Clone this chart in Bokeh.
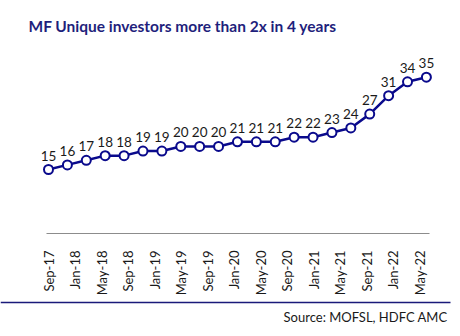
import numpy as np
from bokeh.plotting import figure
from bokeh.models import ColumnDataSource, FixedTicker, Range1d
from bokeh.core.properties import value
from bokeh.embed import file_html
from bokeh.resources import INLINE

# Data
values = [15, 16, 17, 18, 18, 19, 19, 20, 20, 20, 21, 21, 21, 22, 22, 23, 24, 27, 31, 34, 35]
tick_labels = ["Sep-17", "Jan-18", "May-18", "Sep-18", "Jan-19", "May-19", "Sep-19", "Jan-20",
               "May-20", "Sep-20", "Jan-21", "May-21", "Sep-21", "Jan-22", "May-22"]
tick_months = [4 * i for i in range(len(tick_labels))]  # months since Sep-17
span_months = 57  # Sep-17 .. Jun-22
title_text = "MF Unique investors more than 2x in 4 years"
source_text = "Source: MOFSL, HDFC AMC"

xs = list(np.linspace(0, span_months, len(values)))
src = ColumnDataSource(dict(x=xs, y=values, lab=[str(v) for v in values]))

NAVY = "#0A0A8C"
TITLE_C = "#1F1F7C"
W, H = 460, 336
PXM = 6.63     # px per month
PXV = 4.615    # px per unit
X0, Y15 = 48, 169

p = figure(width=W, height=H, output_backend="svg", toolbar_location=None,
           x_range=Range1d(-X0 / PXM, (W - X0) / PXM),
           y_range=Range1d(15 - (H - Y15) / PXV, 15 + Y15 / PXV),
           y_axis_location=None, min_border=0)
p.extra_x_ranges = {"px": Range1d(0, W)}
p.extra_y_ranges = {"px": Range1d(H, 0)}
p.outline_line_color = None
p.grid.visible = False
p.background_fill_color = "white"
p.border_fill_color = "white"

base_y = 15 - (233 - Y15) / PXV

p.line("x", "y", source=src, line_color=NAVY, line_width=2.5)
p.scatter("x", "y", source=src, size=9, fill_color="white", line_color=NAVY, line_width=2)
p.text("x", "y", text="lab", source=src, text_align="center", text_baseline="alphabetic",
       y_offset=-14, text_font=value("Lato"), text_font_size="13.5px", text_color="#1a1a1a")

ax = p.xaxis[0]
ax.fixed_location = base_y
ax.ticker = FixedTicker(ticks=tick_months)
ax.major_label_overrides = {m: l for m, l in zip(tick_months, tick_labels)}
ax.major_label_orientation = np.pi / 2
ax.major_tick_line_color = None
ax.minor_tick_line_color = None
ax.axis_line_color = None
ax.major_label_standoff = 11
ax.major_label_text_font = "Lato"
ax.major_label_text_font_size = "13px"
ax.major_label_text_color = "#1a1a1a"

# axis baseline
p.segment(x0=[46], y0=[233], x1=[429], y1=[233], x_range_name="px", y_range_name="px",
          line_color="#8c8c8c", line_width=1.2)
# title / source / bottom rule
p.text(x=[28], y=[25], text=[title_text], x_range_name="px", y_range_name="px",
       text_font=value("Lato"), text_font_style="bold", text_font_size="15.5px",
       text_color=TITLE_C, text_baseline="middle", text_align="left")
p.text(x=[447], y=[316], text=[source_text], x_range_name="px", y_range_name="px",
       text_font=value("Lato"), text_font_size="13px", text_color="#1a1a1a",
       text_baseline="middle", text_align="right")
p.segment(x0=[0], y0=[302], x1=[450], y1=[302], x_range_name="px", y_range_name="px",
          line_color="#1a1a7a", line_width=1.5)

open("out.html", "w").write(file_html(p, INLINE))
